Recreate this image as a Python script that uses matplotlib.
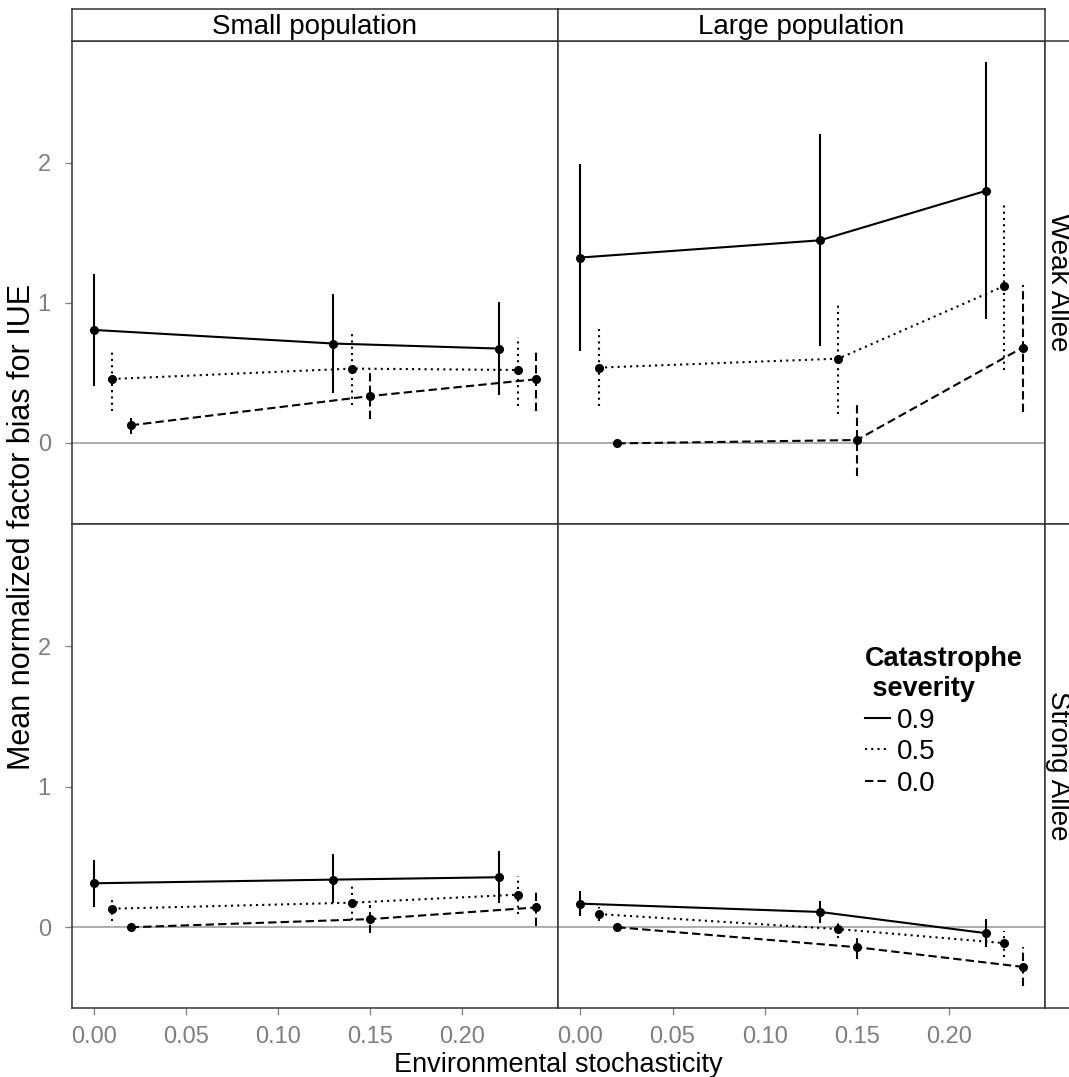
import numpy as np
import matplotlib
matplotlib.use("Agg")
import matplotlib.pyplot as plt
from matplotlib.lines import Line2D

plt.rcParams['font.family'] = ['Liberation Sans', 'DejaVu Sans']

# severity levels and their (dodged) environmental stochasticity values
severity = ["0.9", "0.5", "0.0"]
x_sev09 = [0.00, 0.13, 0.22]
x_sev05 = [0.01, 0.14, 0.23]
x_sev00 = [0.02, 0.15, 0.24]

pop_labels = ["Small population", "Large population"]
allee_labels = ["Weak Allee", "Strong Allee"]

# rows = severity 0.9, 0.5, 0.0
small_weak_mean = [[0.806, 0.709, 0.673], [0.456, 0.530, 0.520], [0.125, 0.334, 0.454]]
small_weak_lo = [[0.406, 0.359, 0.340], [0.227, 0.268, 0.263], [0.061, 0.168, 0.227]]
small_weak_hi = [[1.204, 1.061, 1.009], [0.673, 0.799, 0.753], [0.180, 0.501, 0.663]]

large_weak_mean = [[1.323, 1.446, 1.799], [0.537, 0.601, 1.120], [-0.004, 0.020, 0.680]]
large_weak_lo = [[0.656, 0.692, 0.882], [0.263, 0.208, 0.520], [-0.008, -0.235, 0.220]]
large_weak_hi = [[1.989, 2.204, 2.716], [0.811, 0.989, 1.716], [0.000, 0.268, 1.125]]

small_strong_mean = [[0.313, 0.339, 0.356], [0.132, 0.175, 0.232], [0.000, 0.058, 0.141]]
small_strong_lo = [[0.144, 0.173, 0.173], [0.046, 0.054, 0.096], [-0.010, -0.042, 0.011]]
small_strong_hi = [[0.482, 0.518, 0.542], [0.220, 0.291, 0.368], [0.010, 0.161, 0.273]]

large_strong_mean = [[0.168, 0.109, -0.042], [0.094, -0.013, -0.113], [0.000, -0.142, -0.282]]
large_strong_lo = [[0.082, 0.030, -0.142], [0.041, -0.077, -0.213], [-0.005, -0.227, -0.420]]
large_strong_hi = [[0.256, 0.189, 0.058], [0.147, 0.054, -0.030], [0.005, -0.054, -0.142]]

xs = [x_sev09, x_sev05, x_sev00]
panels = {
    (0, 0): (small_weak_mean, small_weak_lo, small_weak_hi),
    (0, 1): (large_weak_mean, large_weak_lo, large_weak_hi),
    (1, 0): (small_strong_mean, small_strong_lo, small_strong_hi),
    (1, 1): (large_strong_mean, large_strong_lo, large_strong_hi),
}
styles = ['-', (0, (1, 2.0)), (0, (4, 2))]

W, H = 1069, 1077
fig = plt.figure(figsize=(W / 100, H / 100), dpi=100)


def box(x0, y0, x1, y1):
    # pixel coords measured from the top-left corner
    return [x0 / W, 1 - y1 / H, (x1 - x0) / W, (y1 - y0) / H]


col_x = [(71.7, 558.3), (558.3, 1044.7)]
row_y = [(40.5, 523.6), (523.6, 1008.3)]
frame = '#333333'
grey = '#7f7f7f'

# shared scales with ggplot-like 5% expansion
allx = np.concatenate(xs)
xpad = 0.05 * (allx.max() - allx.min())
xlim = (allx.min() - xpad, allx.max() + xpad)
ally = np.concatenate([np.ravel(v[1]) for v in panels.values()] +
                      [np.ravel(v[2]) for v in panels.values()])
ypad = 0.05 * (ally.max() - ally.min())
ylim = (ally.min() - ypad, ally.max() + ypad)

axes = {}
for (r, c), (mean, lo, hi) in panels.items():
    ax = fig.add_axes(box(col_x[c][0], row_y[r][0], col_x[c][1], row_y[r][1]))
    axes[(r, c)] = ax
    ax.axhline(0, color='#a0a0a0', lw=1.2, zorder=1)
    for i in range(3):
        ax.plot(xs[i], mean[i], linestyle=styles[i], color='black', lw=1.5,
                marker='o', ms=5.5, zorder=3)
        ax.vlines(xs[i], lo[i], hi[i], linestyles=[styles[i]], colors='black',
                  lw=1.5, zorder=3)
    ax.set_xlim(xlim)
    ax.set_ylim(ylim)
    ax.set_xticks(np.arange(0, 0.201, 0.05))
    ax.set_xticklabels(["%.2f" % v for v in np.arange(0, 0.201, 0.05)])
    ax.set_yticks([0, 1, 2])
    ax.tick_params(direction='out', length=5, width=0.9, color=grey,
                   labelcolor=grey, labelsize=17,
                   left=(c == 0), labelleft=(c == 0),
                   bottom=(r == 1), labelbottom=(r == 1))
    ax.tick_params(axis='x', pad=8)
    ax.tick_params(axis='y', pad=10)
    for s in ax.spines.values():
        s.set_color(frame)
        s.set_linewidth(1.1)

# top strips
for c in range(2):
    sa = fig.add_axes(box(col_x[c][0], 9.4, col_x[c][1], 40.5))
    sa.set_xticks([])
    sa.set_yticks([])
    for s in sa.spines.values():
        s.set_color(frame)
        s.set_linewidth(1.1)
    sa.text(0.5, 0.45, pop_labels[c], ha='center', va='center', fontsize=20,
            transform=sa.transAxes)

# right strips (cut by the figure edge)
for r in range(2):
    sa = fig.add_axes(box(1044.7, row_y[r][0], 1100, row_y[r][1]))
    sa.set_xticks([])
    sa.set_yticks([])
    for s in sa.spines.values():
        s.set_color(frame)
        s.set_linewidth(1.1)
    fig.text(1058 / W, 1 - (row_y[r][0] + row_y[r][1]) / 2 / H, allee_labels[r],
             rotation=270, ha='center', va='center', fontsize=20)

fig.text(558.2 / W, 1 - 1072 / H, "Environmental stochasticity", ha='center',
         va='baseline', fontsize=19.5)
fig.text(22 / W, 1 - 527 / H, "Mean normalized factor bias for IUE",
         rotation=90, ha='center', va='center', fontsize=22)

handles = [Line2D([], [], color='black', lw=1.5, linestyle=styles[i]) for i in range(3)]
leg = axes[(1, 1)].legend(handles, severity, title="Catastrophe\n severity",
                          loc='upper left', bbox_to_anchor=(865 / W, 1 - 646 / H),
                          bbox_transform=fig.transFigure, frameon=False,
                          fontsize=20, handlelength=0.9, handletextpad=0.25,
                          labelspacing=0.2, borderpad=0, borderaxespad=0,
                          alignment='left')
leg.get_title().set_fontsize(19.5)
leg.get_title().set_fontweight('bold')

fig.savefig("out.png", dpi=100)
